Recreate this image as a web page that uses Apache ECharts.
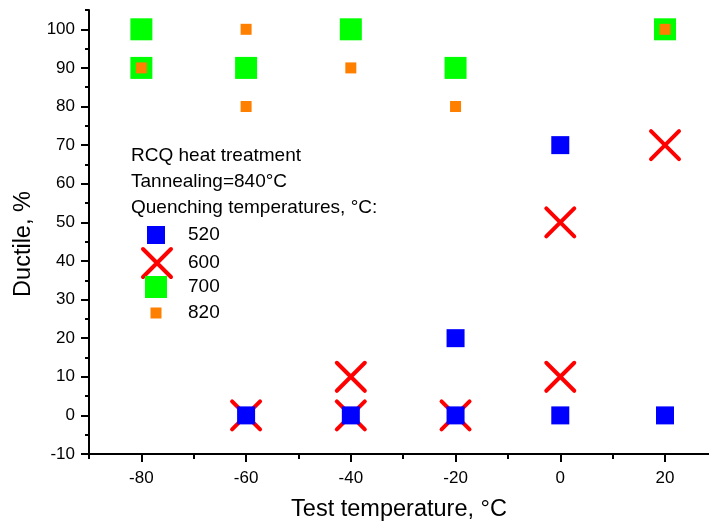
<!DOCTYPE html>
<html><head><meta charset="utf-8">
<script src="https://cdn.jsdelivr.net/npm/echarts@6/dist/echarts.min.js"></script>
<style>html,body{margin:0;padding:0;background:#fff}#c{width:709px;height:522px}</style>
</head><body><div id="c"></div>
<script>
// ---- data ----
const xMajorTicks = [-80, -60, -40, -20, 0, 20];
const xMinorTicks = [-90, -70, -50, -30, -10, 10];
const yMajorTicks = [-10, 0, 10, 20, 30, 40, 50, 60, 70, 80, 90, 100];
const yMinorTicks = [-5, 5, 15, 25, 35, 45, 55, 65, 75, 85, 95, 105];

const seriesNames = ['520', '600', '700', '820'];
const q520 = [[-60, 0], [-40, 0], [-20, 0], [-20, 20], [0, 0], [0, 70], [20, 0]];
const q600 = [[-60, 0], [-40, 0], [-40, 10], [-20, 0], [0, 10], [0, 50], [20, 70]];
const q700 = [[-80, 100], [-80, 90], [-60, 90], [-40, 100], [-20, 90], [20, 100]];
const q820 = [[-80, 90], [-60, 100], [-60, 80], [-40, 90], [-20, 80], [20, 100]];

const headerLines = ['RCQ heat treatment', 'Tannealing=840°C', 'Quenching temperatures, °C:'];
const xTitle = 'Test temperature, °C';
const yTitle = 'Ductile, %';

// ---- styles ----
const FONT = '"Liberation Sans", Arial, Helvetica, sans-serif';
const XS = 'path://M0,0L10,10M10,0L0,10';

const axisBase = {
  type: 'value',
  splitLine: { show: false },
  axisLine: { show: true, onZero: false, lineStyle: { color: '#000', width: 2 } },
};

// icon centre at x=156, text starting at x=188
function legendFor(name, icon, s, rowY, extraStyle, shift) {
  const box = Math.max(s, 22);
  const d = shift || 0;
  return {
    orient: 'vertical', left: 156 - s / 2 + d, top: rowY - box / 2, padding: 0, itemGap: 0,
    itemWidth: s, itemHeight: s, selectedMode: false,
    data: [{ name: name, icon: icon }],
    itemStyle: extraStyle || { borderWidth: 0 },
    textStyle: { fontSize: 19, lineHeight: 22, color: '#000', fontFamily: FONT, padding: [0, 0, 0, 27 - s / 2 + d] }
  };
}

const chart = echarts.init(document.getElementById('c'));
chart.setOption({
  animation: false,
  backgroundColor: '#fff',
  textStyle: { fontFamily: FONT },
  grid: { left: 89, right: 0, top: 10, bottom: 68, containLabel: false, outerBoundsMode: 'none' },
  title: {
    text: headerLines.join('\n'), left: 131, top: 143, padding: 0,
    textStyle: { fontSize: 19, lineHeight: 26, fontWeight: 'normal', color: '#000', fontFamily: FONT }
  },
  legend: [
    legendFor(seriesNames[0], 'rect', 18, 235),
    legendFor(seriesNames[1], XS, 28, 261, { borderWidth: 4, borderColor: '#ff0000', borderCap: 'round' }, -1),
    legendFor(seriesNames[2], 'rect', 22, 287),
    legendFor(seriesNames[3], 'rect', 11, 313)
  ],
  xAxis: [
    Object.assign({}, axisBase, {
      min: -90, max: 28.4, position: 'bottom',
      axisTick: { show: true, customValues: xMajorTicks, length: 8, lineStyle: { color: '#000', width: 2 } },
      axisLabel: { customValues: xMajorTicks, fontSize: 17, color: '#000', margin: 16, fontFamily: FONT },
      name: xTitle, nameLocation: 'middle', nameGap: 44,
      nameTextStyle: { fontSize: 23.5, color: '#000', fontFamily: FONT }
    }),
    Object.assign({}, axisBase, {
      min: -90, max: 28.4, position: 'bottom',
      axisLine: { show: false, onZero: false },
      axisTick: { show: true, customValues: xMinorTicks, length: 5, lineStyle: { color: '#000', width: 2 } },
      axisLabel: { show: false }
    })
  ],
  yAxis: [
    Object.assign({}, axisBase, {
      min: -10, max: 105, position: 'left',
      axisTick: { show: true, customValues: yMajorTicks, length: 8, lineStyle: { color: '#000', width: 2 } },
      axisLabel: { customValues: yMajorTicks, fontSize: 17, color: '#000', margin: 14, fontFamily: FONT },
      name: yTitle, nameLocation: 'middle', nameGap: 46, nameRotate: 90,
      nameTextStyle: { fontSize: 23.5, color: '#000', fontFamily: FONT, padding: [0, 24, 0, 0] }
    }),
    Object.assign({}, axisBase, {
      min: -10, max: 105, position: 'left',
      axisLine: { show: false, onZero: false },
      axisTick: { show: true, customValues: yMinorTicks, length: 4, lineStyle: { color: '#000', width: 2 } },
      axisLabel: { show: false }
    })
  ],
  series: [
    {
      name: seriesNames[1], type: 'scatter', data: q600, symbol: XS, symbolSize: 28, symbolKeepAspect: true,
      itemStyle: { color: 'rgba(255,0,0,0)', borderColor: '#ff0000', borderWidth: 4, borderCap: 'round', opacity: 1 },
      emphasis: { disabled: true }, z: 2
    },
    {
      name: seriesNames[0], type: 'scatter', data: q520, symbol: 'rect', symbolSize: 18,
      itemStyle: { color: '#0000ff', opacity: 1 }, emphasis: { disabled: true }, z: 3
    },
    {
      name: seriesNames[2], type: 'scatter', data: q700, symbol: 'rect', symbolSize: 22,
      itemStyle: { color: '#00ff00', opacity: 1 }, emphasis: { disabled: true }, z: 4
    },
    {
      name: seriesNames[3], type: 'scatter', data: q820, symbol: 'rect', symbolSize: 11,
      itemStyle: { color: '#ff7f00', opacity: 1 }, emphasis: { disabled: true }, z: 5
    }
  ]
});
</script>
</body></html>
